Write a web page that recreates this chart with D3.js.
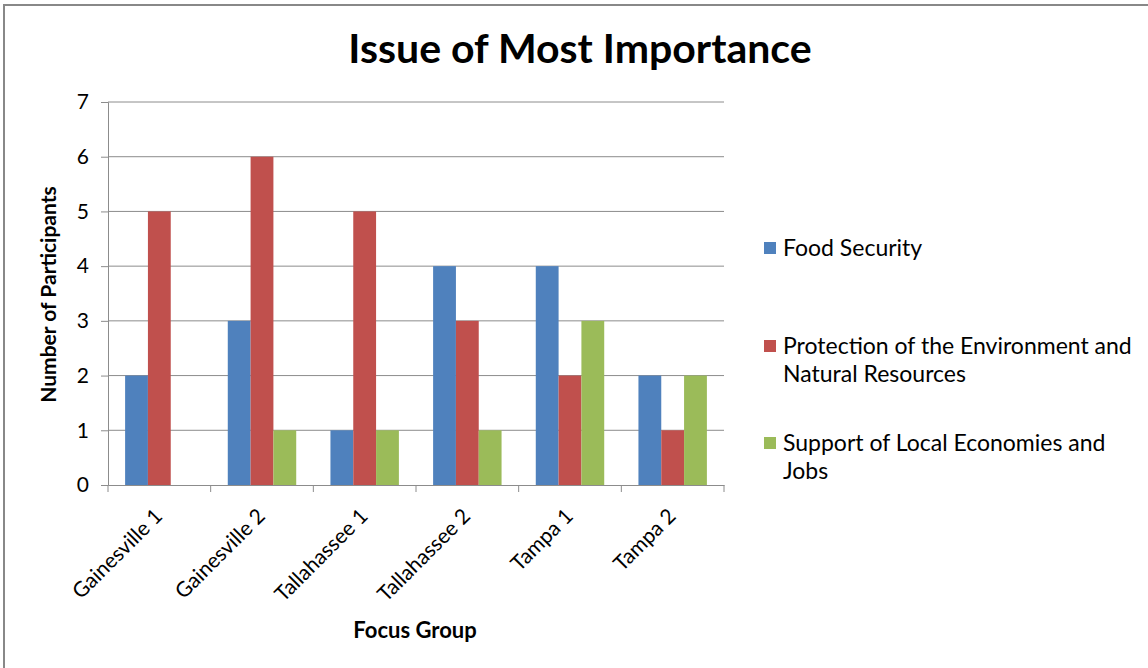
<!DOCTYPE html>
<html>
<head>
<meta charset="UTF-8">
<title>Issue of Most Importance</title>
<script src="https://cdn.jsdelivr.net/npm/d3@7"></script>
<style>
  body { margin: 0; background: #fff; }
  text { font-family: Lato, "Open Sans", sans-serif; fill: #000; }
</style>
</head>
<body>
<div id="chart"></div>
<script>
// data
var groups = ["Gainesville 1", "Gainesville 2", "Tallahassee 1", "Tallahassee 2", "Tampa 1", "Tampa 2"];
var seriesNames = ["Food Security", "Protection of the Environment and Natural Resources", "Support of Local Economies and Jobs"];
var foodSecurity = [2, 3, 1, 4, 4, 2];
var environment = [5, 6, 5, 3, 2, 1];
var localEconomies = [0, 1, 1, 1, 3, 2];
var yTicks = [0, 1, 2, 3, 4, 5, 6, 7];

var seriesValues = [foodSecurity, environment, localEconomies];
var colors = ["#4F81BD", "#C0504D", "#9BBB59"];

var W = 1148, H = 668;
var plotL = 108, plotR = 724, plotT = 102, plotB = 485;

var svg = d3.select("#chart").append("svg")
    .attr("width", W).attr("height", H);

// outer frame
svg.append("rect")
    .attr("x", 4).attr("y", 5)
    .attr("width", W + 10).attr("height", H + 10)
    .attr("fill", "none").attr("stroke", "#888").attr("stroke-width", 2);

var x = d3.scaleBand().domain(groups).range([plotL, plotR]).paddingInner(0).paddingOuter(0);
var bw = x.bandwidth() / 4.5;
var xs = d3.scaleBand().domain(d3.range(3)).range([bw * 0.75, bw * 3.75]);
var y = d3.scaleLinear().domain([0, 7]).range([plotB, plotT]);

// gridlines
svg.append("g").selectAll("line").data(yTicks.slice(1)).enter().append("line")
    .attr("x1", plotL).attr("x2", plotR)
    .attr("y1", function(d){ return y(d); }).attr("y2", function(d){ return y(d); })
    .attr("stroke", "#8c8c8c").attr("stroke-width", 1);

// bars
var gs = svg.append("g").selectAll("g").data(groups).enter().append("g")
    .attr("transform", function(d){ return "translate(" + x(d) + ",0)"; });
gs.selectAll("rect").data(function(d, i){
        return seriesValues.map(function(s, j){ return {s: j, v: s[i]}; });
    }).enter().append("rect")
    .attr("x", function(d){ return xs(d.s); })
    .attr("width", xs.bandwidth())
    .attr("y", function(d){ return y(d.v); })
    .attr("height", function(d){ return y(0) - y(d.v); })
    .attr("fill", function(d){ return colors[d.s]; });

// y axis
var yAxis = svg.append("g").attr("transform", "translate(" + plotL + ",0)")
    .call(d3.axisLeft(y).tickValues(yTicks).tickSize(7).tickPadding(12).tickFormat(d3.format("d")));
yAxis.select(".domain").attr("stroke", "#8c8c8c");
yAxis.selectAll(".tick line").attr("stroke", "#8c8c8c");
yAxis.selectAll("text").style("font-size", "21px").attr("fill", "#000");

// x axis
var xAxis = svg.append("g").attr("transform", "translate(0," + plotB + ")")
    .call(d3.axisBottom(x).tickSize(0).tickFormat(""));
xAxis.select(".domain").attr("stroke", "#8c8c8c");
xAxis.selectAll(".xt").data(d3.range(groups.length + 1)).enter().append("line")
    .attr("x1", function(i){ return plotL + i * x.step(); })
    .attr("x2", function(i){ return plotL + i * x.step(); })
    .attr("y1", 0).attr("y2", 7).attr("stroke", "#8c8c8c");

svg.append("g").selectAll("text").data(groups).enter().append("text")
    .attr("transform", function(d){
        return "translate(" + (x(d) + x.bandwidth() / 2 - 6) + "," + (plotB + 22) + ") rotate(-45)";
    })
    .attr("text-anchor", "end")
    .attr("dy", "0.7em")
    .style("font-size", "21px")
    .text(function(d){ return d; });

// titles
svg.append("text").attr("x", 580).attr("y", 63).attr("text-anchor", "middle")
    .style("font-size", "41px").style("font-weight", "bold")
    .text("Issue of Most Importance");
svg.append("text").attr("transform", "translate(56," + ((plotT + plotB) / 2 + 1) + ") rotate(-90)")
    .attr("text-anchor", "middle")
    .style("font-size", "21px").style("font-weight", "bold")
    .text("Number of Participants");
svg.append("text").attr("x", 415).attr("y", 638).attr("text-anchor", "middle")
    .style("font-size", "22px").style("font-weight", "bold")
    .text("Focus Group");

// legend
var legendLines = [["Food Security"], ["Protection of the Environment and", "Natural Resources"], ["Support of Local Economies and", "Jobs"]];
var legendY = [248, 346, 443];
var lg = svg.append("g").selectAll("g").data(seriesNames).enter().append("g")
    .attr("transform", function(d, i){ return "translate(764," + legendY[i] + ")"; });
lg.append("rect").attr("x", 0).attr("y", -6).attr("width", 12).attr("height", 12)
    .attr("fill", function(d, i){ return colors[i]; });
lg.append("text").attr("x", 19).attr("y", 8)
    .style("font-size", "23px")
    .selectAll("tspan").data(function(d, i){ return legendLines[i]; }).enter().append("tspan")
    .attr("x", 19).attr("dy", function(d, k){ return k === 0 ? 0 : 28; })
    .text(function(d){ return d; });
</script>
</body>
</html>
